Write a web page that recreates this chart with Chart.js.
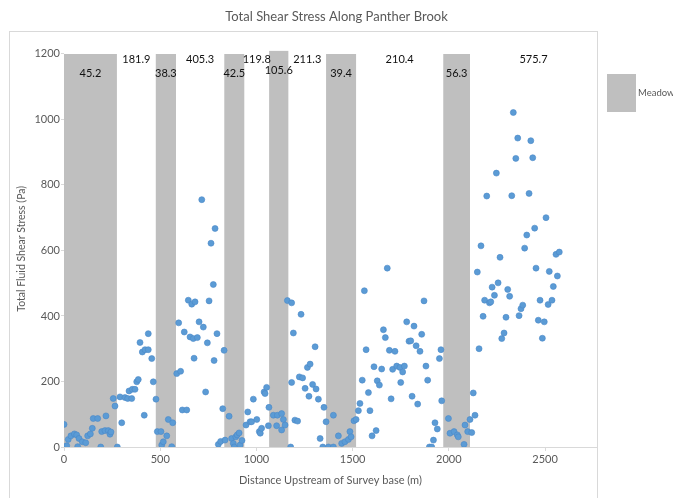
<!DOCTYPE html>
<html>
<head>
<meta charset="utf-8">
<title>Total Shear Stress Along Panther Brook</title>
<script src="https://cdn.jsdelivr.net/npm/chart.js@4.4.0/dist/chart.umd.min.js"></script>
<style>
  html, body { margin: 0; padding: 0; background: #fff; }
  #wrap { width: 673px; height: 498px; }
</style>
</head>
<body>
<div id="wrap"><canvas id="shearChart"></canvas></div>
<script>
// survey points: distance upstream (m) and total fluid shear stress (Pa)
const distance = [
  0, 14, 22, 36, 54, 66, 71, 78, 95, 113, 123, 137, 147, 152, 175, 191, 196, 213, 218, 230,
  239, 244, 256, 265, 277, 291, 300, 317, 331, 338, 352, 355, 369, 378, 386, 395, 407, 417, 421, 438,
  438, 456, 464, 478, 485, 504, 508, 516, 534, 542, 560, 565, 586, 596, 606, 615, 625, 638, 646, 655,
  664, 672, 676, 681, 693, 702, 716, 724, 736, 745, 754, 764, 776, 780, 785, 795, 802, 814, 825, 832,
  837, 858, 871, 880, 885, 893, 900, 910, 915, 925, 946, 955, 967, 975, 984, 1002, 1015, 1020, 1027, 1040,
  1045, 1053, 1062, 1065, 1088, 1105, 1109, 1131, 1131, 1140, 1149, 1161, 1178, 1183, 1183, 1192, 1200, 1214, 1223, 1232,
  1240, 1253, 1265, 1273, 1279, 1292, 1305, 1310, 1322, 1331, 1345, 1351, 1362, 1374, 1400, 1400, 1426, 1443, 1460, 1478,
  1486, 1492, 1507, 1518, 1530, 1538, 1550, 1561, 1570, 1582, 1590, 1601, 1611, 1622, 1628, 1639, 1651, 1660, 1670, 1680,
  1691, 1700, 1708, 1720, 1729, 1746, 1750, 1760, 1769, 1781, 1793, 1802, 1809, 1819, 1830, 1838, 1850, 1859, 1871, 1881,
  1890, 1899, 1911, 1920, 1928, 1940, 1951, 1959, 1963, 1998, 2006, 2027, 2044, 2049, 2079, 2084, 2098, 2110, 2119, 2127,
  2136, 2148, 2157, 2167, 2178, 2186, 2197, 2211, 2218, 2225, 2237, 2247, 2256, 2266, 2275, 2287, 2297, 2306, 2316, 2327,
  2335, 2348, 2358, 2365, 2375, 2384, 2394, 2405, 2417, 2426, 2436, 2446, 2453, 2465, 2474, 2486, 2496, 2505, 2516, 2522,
  2536, 2543, 2557, 2564, 2574
];
const shear = [
  69, 4, 23, 34, 40, 37, 1, 26, 16, 13, 34, 40, 57, 87, 87, 0, 47, 50, 95, 50,
  39, 46, 148, 125, 0, 153, 74, 151, 148, 171, 148, 176, 176, 199, 206, 319, 290, 97, 297, 297,
  346, 270, 199, 146, 47, 47, 6, 16, 34, 84, 1, 74, 224, 379, 231, 113, 351, 113, 448, 336,
  436, 331, 271, 443, 334, 382, 755, 366, 168, 318, 446, 622, 496, 264, 667, 346, 8, 17, 117, 295,
  21, 94, 26, 11, 0, 31, 37, 43, 6, 20, 67, 107, 77, 77, 146, 84, 47, 42, 57, 168,
  163, 182, 65, 121, 97, 65, 97, 102, 52, 84, 67, 447, 0, 440, 197, 348, 82, 79, 214, 405,
  211, 179, 243, 155, 253, 191, 306, 177, 146, 26, 0, 121, 77, 0, 0, 97, 34, 11, 16, 23,
  47, 31, 80, 84, 111, 133, 204, 477, 297, 166, 111, 34, 245, 50, 202, 189, 238, 358, 334, 546,
  295, 147, 237, 292, 247, 243, 197, 229, 247, 382, 323, 324, 155, 369, 309, 131, 292, 344, 446, 247,
  204, 0, 0, 21, 74, 55, 270, 297, 141, 87, 42, 47, 37, 31, 8, 67, 47, 84, 44, 165,
  97, 534, 300, 614, 399, 448, 766, 440, 443, 488, 463, 836, 501, 579, 331, 348, 396, 481, 460, 767,
  1021, 881, 943, 401, 422, 433, 607, 647, 774, 935, 883, 668, 546, 387, 448, 332, 382, 700, 435, 536,
  448, 490, 588, 522, 595
];

// meadow reaches: start and end distance (m), bar height, mean stress in the meadow
const meadowStart = [0, 477, 833, 1066, 1362, 1971];
const meadowEnd = [275, 582, 937, 1166, 1518, 2110];
const meadowTop = [1200, 1200, 1200, 1210, 1200, 1200];
const meadowMean = ['45.2', '38.3', '42.5', '105.6', '39.4', '56.3'];
// mean stress of the open channel reach after each meadow
const reachMean = ['181.9', '405.3', '119.8', '211.3', '210.4', '575.7'];

const xTicks = [0, 500, 1000, 1500, 2000, 2500];
const yTicks = [0, 200, 400, 600, 800, 1000, 1200];
const xMax = 2770;
const yMax = 1210;

const FONT = 'Lato';
const GREY_TEXT = '#595959';
const MEADOW_GREY = '#bfbfbf';

// rectangle outline for every meadow, filled down to zero
const meadowOutline = [];
meadowStart.forEach((s, i) => {
    meadowOutline.push(
        {x: s, y: 0}, {x: s, y: meadowTop[i]},
        {x: meadowEnd[i], y: meadowTop[i]}, {x: meadowEnd[i], y: 0}
    );
});

const points = distance.map((d, i) => ({x: d, y: shear[i]}));

// white background + thin border round the plot block
const frame = {
    id: 'frame',
    beforeDraw(chart) {
        const {ctx, chartArea} = chart;
        ctx.save();
        ctx.fillStyle = '#fff';
        ctx.fillRect(0, 0, chart.width, chart.height);
        ctx.strokeStyle = '#d9d9d9';
        ctx.lineWidth = 1;
        ctx.strokeRect(9.5, 31.5, Math.round(chartArea.right) - 9, chart.height);
        ctx.restore();
    }
};

// mean stress numbers inside each meadow and over each reach in between
const meanLabels = {
    id: 'meanLabels',
    afterDatasetsDraw(chart) {
        const {ctx, scales: {x, y}} = chart;
        ctx.save();
        ctx.font = '11px ' + FONT;
        ctx.fillStyle = '#111';
        ctx.textAlign = 'center';
        ctx.textBaseline = 'middle';
        meadowStart.forEach((s, i) => {
            ctx.fillText(meadowMean[i], x.getPixelForValue((s + meadowEnd[i]) / 2), y.getPixelForValue(meadowTop[i]) + 20);
            const next = i + 1 < meadowStart.length ? meadowStart[i + 1] : x.max;
            ctx.fillText(reachMean[i], x.getPixelForValue((meadowEnd[i] + next) / 2), y.getPixelForValue(1200) + 6);
        });
        ctx.restore();
    }
};

// single legend entry to the right of the plot
const sideLegend = {
    id: 'sideLegend',
    afterDraw(chart) {
        const ds = chart.data.datasets[1];
        const {ctx, chartArea} = chart;
        const bx = chartArea.right + 10, by = 74;
        ctx.save();
        ctx.fillStyle = ds.backgroundColor;
        ctx.fillRect(bx, by, 29, 38);
        ctx.font = '9.5px ' + FONT;
        ctx.fillStyle = GREY_TEXT;
        ctx.textAlign = 'left';
        ctx.textBaseline = 'middle';
        ctx.fillText(ds.label, bx + 31, by + 19);
        ctx.restore();
    }
};

new Chart(document.getElementById('shearChart'), {
    type: 'scatter',
    data: {
        datasets: [
            {
                label: 'Total Fluid Shear Stress',
                data: points,
                backgroundColor: '#5b9bd5',
                borderColor: '#4a88c8',
                borderWidth: 0.6,
                pointRadius: 3,
                order: 0
            },
            {
                label: 'Meadow',
                data: meadowOutline,
                showLine: true,
                fill: 'origin',
                backgroundColor: MEADOW_GREY,
                borderColor: 'rgba(0,0,0,0)',
                borderWidth: 1,
                pointRadius: 0,
                tension: 0,
                order: 1
            }
        ]
    },
    options: {
        responsive: true,
        maintainAspectRatio: false,
        animation: false,
        layout: {padding: 0},
        plugins: {
            legend: {display: false},
            tooltip: {enabled: false},
            title: {
                display: true,
                text: 'Total Shear Stress Along Panther Brook',
                color: GREY_TEXT,
                font: {family: FONT, size: 13, weight: 'normal'},
                padding: {top: 9, bottom: 26}
            }
        },
        scales: {
            x: {
                type: 'linear',
                min: 0,
                max: xMax,
                afterBuildTicks: s => { s.ticks = xTicks.map(v => ({value: v})); },
                afterFit: s => { s.height = 51; },
                grid: {drawOnChartArea: false, drawTicks: true, tickLength: 4, color: '#d9d9d9'},
                border: {color: '#d9d9d9'},
                ticks: {color: GREY_TEXT, font: {family: FONT, size: 11}, padding: 2, maxRotation: 0, callback: v => String(v)},
                title: {
                    display: true,
                    text: 'Distance Upstream of Survey base (m)',
                    color: GREY_TEXT,
                    font: {family: FONT, size: 11},
                    padding: {top: 0, bottom: 11}
                }
            },
            y: {
                type: 'linear',
                min: 0,
                max: yMax,
                afterBuildTicks: s => { s.ticks = yTicks.map(v => ({value: v})); },
                afterFit: s => { s.width = 64; },
                grid: {drawOnChartArea: false, drawTicks: true, tickLength: 3, color: '#d9d9d9'},
                border: {display: false},
                ticks: {color: GREY_TEXT, font: {family: FONT, size: 11}, padding: 1, callback: v => String(v)},
                title: {
                    display: true,
                    text: 'Total Fluid Shear Stress (Pa)',
                    color: GREY_TEXT,
                    font: {family: FONT, size: 10.5},
                    padding: {top: 15, bottom: 0}
                }
            },
            // empty right-hand band that holds the legend
            legendBand: {
                type: 'linear',
                position: 'right',
                display: true,
                afterFit: s => { s.width = 76; },
                grid: {display: false},
                border: {display: false},
                ticks: {display: false}
            }
        }
    },
    plugins: [frame, meanLabels, sideLegend]
});
</script>
</body>
</html>
